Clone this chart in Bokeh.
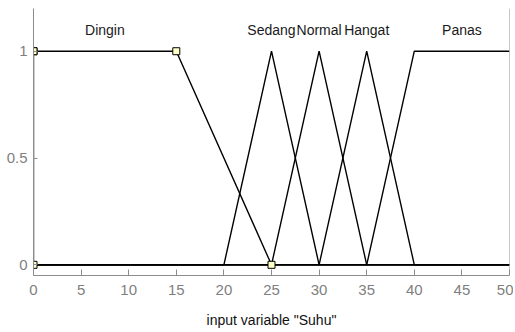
from bokeh.plotting import figure
from bokeh.models import Range1d, FixedTicker, ColumnDataSource, Span
from bokeh.core.properties import value
from bokeh.embed import file_html
from bokeh.resources import INLINE

# Membership functions of input variable "Suhu" (range 0..50)
mf_names = ["Dingin", "Sedang", "Normal", "Hangat", "Panas"]
mf_types = ["trapmf", "trimf", "trimf", "trimf", "trapmf"]
mf_params = [[0, 0, 15, 25], [20, 25, 30], [25, 30, 35], [30, 35, 40], [35, 40, 50, 50]]
x_min, x_max = 0, 50
x_ticks = [0, 5, 10, 15, 20, 25, 30, 35, 40, 45, 50]
y_ticks = [0, 0.5, 1]
y_tick_labels = {0: "0", 0.5: "0.5", 1: "1"}
selected_mf = "Dingin"

FONT_NAME = "Liberation Sans"
FONT = value(FONT_NAME)


def mf_vertices(kind, prm):
    if kind == "trimf":
        a, b, c = prm
        xs, ys = [a, b, c], [0, 1, 0]
    else:
        a, b, c, d = prm
        xs, ys = [a, b, c, d], [0, 1, 1, 0 if d > c else 1]
        if a == b:
            ys[0] = 1
    # extend to the full universe, as plotmf draws over the whole range
    if xs[0] > x_min or ys[0] != 0:
        xs = [x_min] + xs
        ys = [0] + ys
    if xs[-1] < x_max:
        xs = xs + [x_max]
        ys = ys + [0]
    return xs, ys


def label_x(kind, prm):
    if kind == "trimf":
        return prm[1]
    return (prm[1] + prm[2]) / 2


p = figure(width=513, height=330, output_backend="svg", toolbar_location=None,
           x_range=Range1d(x_min, x_max), y_range=Range1d(-0.05, 1.2),
           min_border_left=33, min_border_right=4, min_border_top=8, min_border_bottom=55)
p.xgrid.visible = False
p.ygrid.visible = False
p.outline_line_color = None
p.background_fill_color = "white"
p.border_fill_color = "white"

for name, kind, prm in zip(mf_names, mf_types, mf_params):
    xs, ys = mf_vertices(kind, prm)
    p.line(xs, ys, line_color="black", line_width=1.4)

# markers on the selected MF's parameter points
i = mf_names.index(selected_mf)
kind, prm = mf_types[i], mf_params[i]
mx, my = mf_vertices(kind, prm)
mx, my = mx[:-1], my[:-1]
p.scatter(mx, my, marker="square", size=7, fill_color="#ffffc8", line_color="black", line_width=1)

src = ColumnDataSource(dict(x=[label_x(k, q) for k, q in zip(mf_types, mf_params)],
                            y=[1.1] * len(mf_names), t=mf_names))
p.text(x="x", y="y", text="t", source=src, text_align="center", text_baseline="middle",
       text_font=FONT, text_font_size="14px", text_color="#1a1a1a")

# right border of the axes box
p.add_layout(Span(location=x_max, dimension="height", line_color="#8c8c8c", line_width=1))

ax = p.xaxis[0]
ax.ticker = FixedTicker(ticks=x_ticks)
ax.axis_line_color = "#8c8c8c"
ax.major_tick_line_color = "#8c8c8c"
ax.major_tick_in = 6
ax.major_tick_out = 0
ax.minor_tick_line_color = None
ax.major_label_text_font = FONT_NAME
ax.major_label_text_font_size = "15px"
ax.major_label_text_color = "#7f7f7f"
ax.major_label_standoff = 9
ax.axis_label = 'input variable "Suhu"'
ax.axis_label_text_font = FONT_NAME
ax.axis_label_text_font_size = "14px"
ax.axis_label_text_font_style = "normal"
ax.axis_label_text_color = "#111111"
ax.axis_label_standoff = 14

ay = p.yaxis[0]
ay.ticker = FixedTicker(ticks=y_ticks)
ay.major_label_overrides = y_tick_labels
ay.axis_line_color = "#8c8c8c"
ay.major_tick_line_color = "#8c8c8c"
ay.major_tick_in = 4
ay.major_tick_out = 0
ay.minor_tick_line_color = None
ay.major_label_text_font = FONT_NAME
ay.major_label_text_font_size = "15px"
ay.major_label_text_color = "#7f7f7f"
ay.major_label_standoff = 6

open("out.html", "w").write(file_html(p, INLINE))
